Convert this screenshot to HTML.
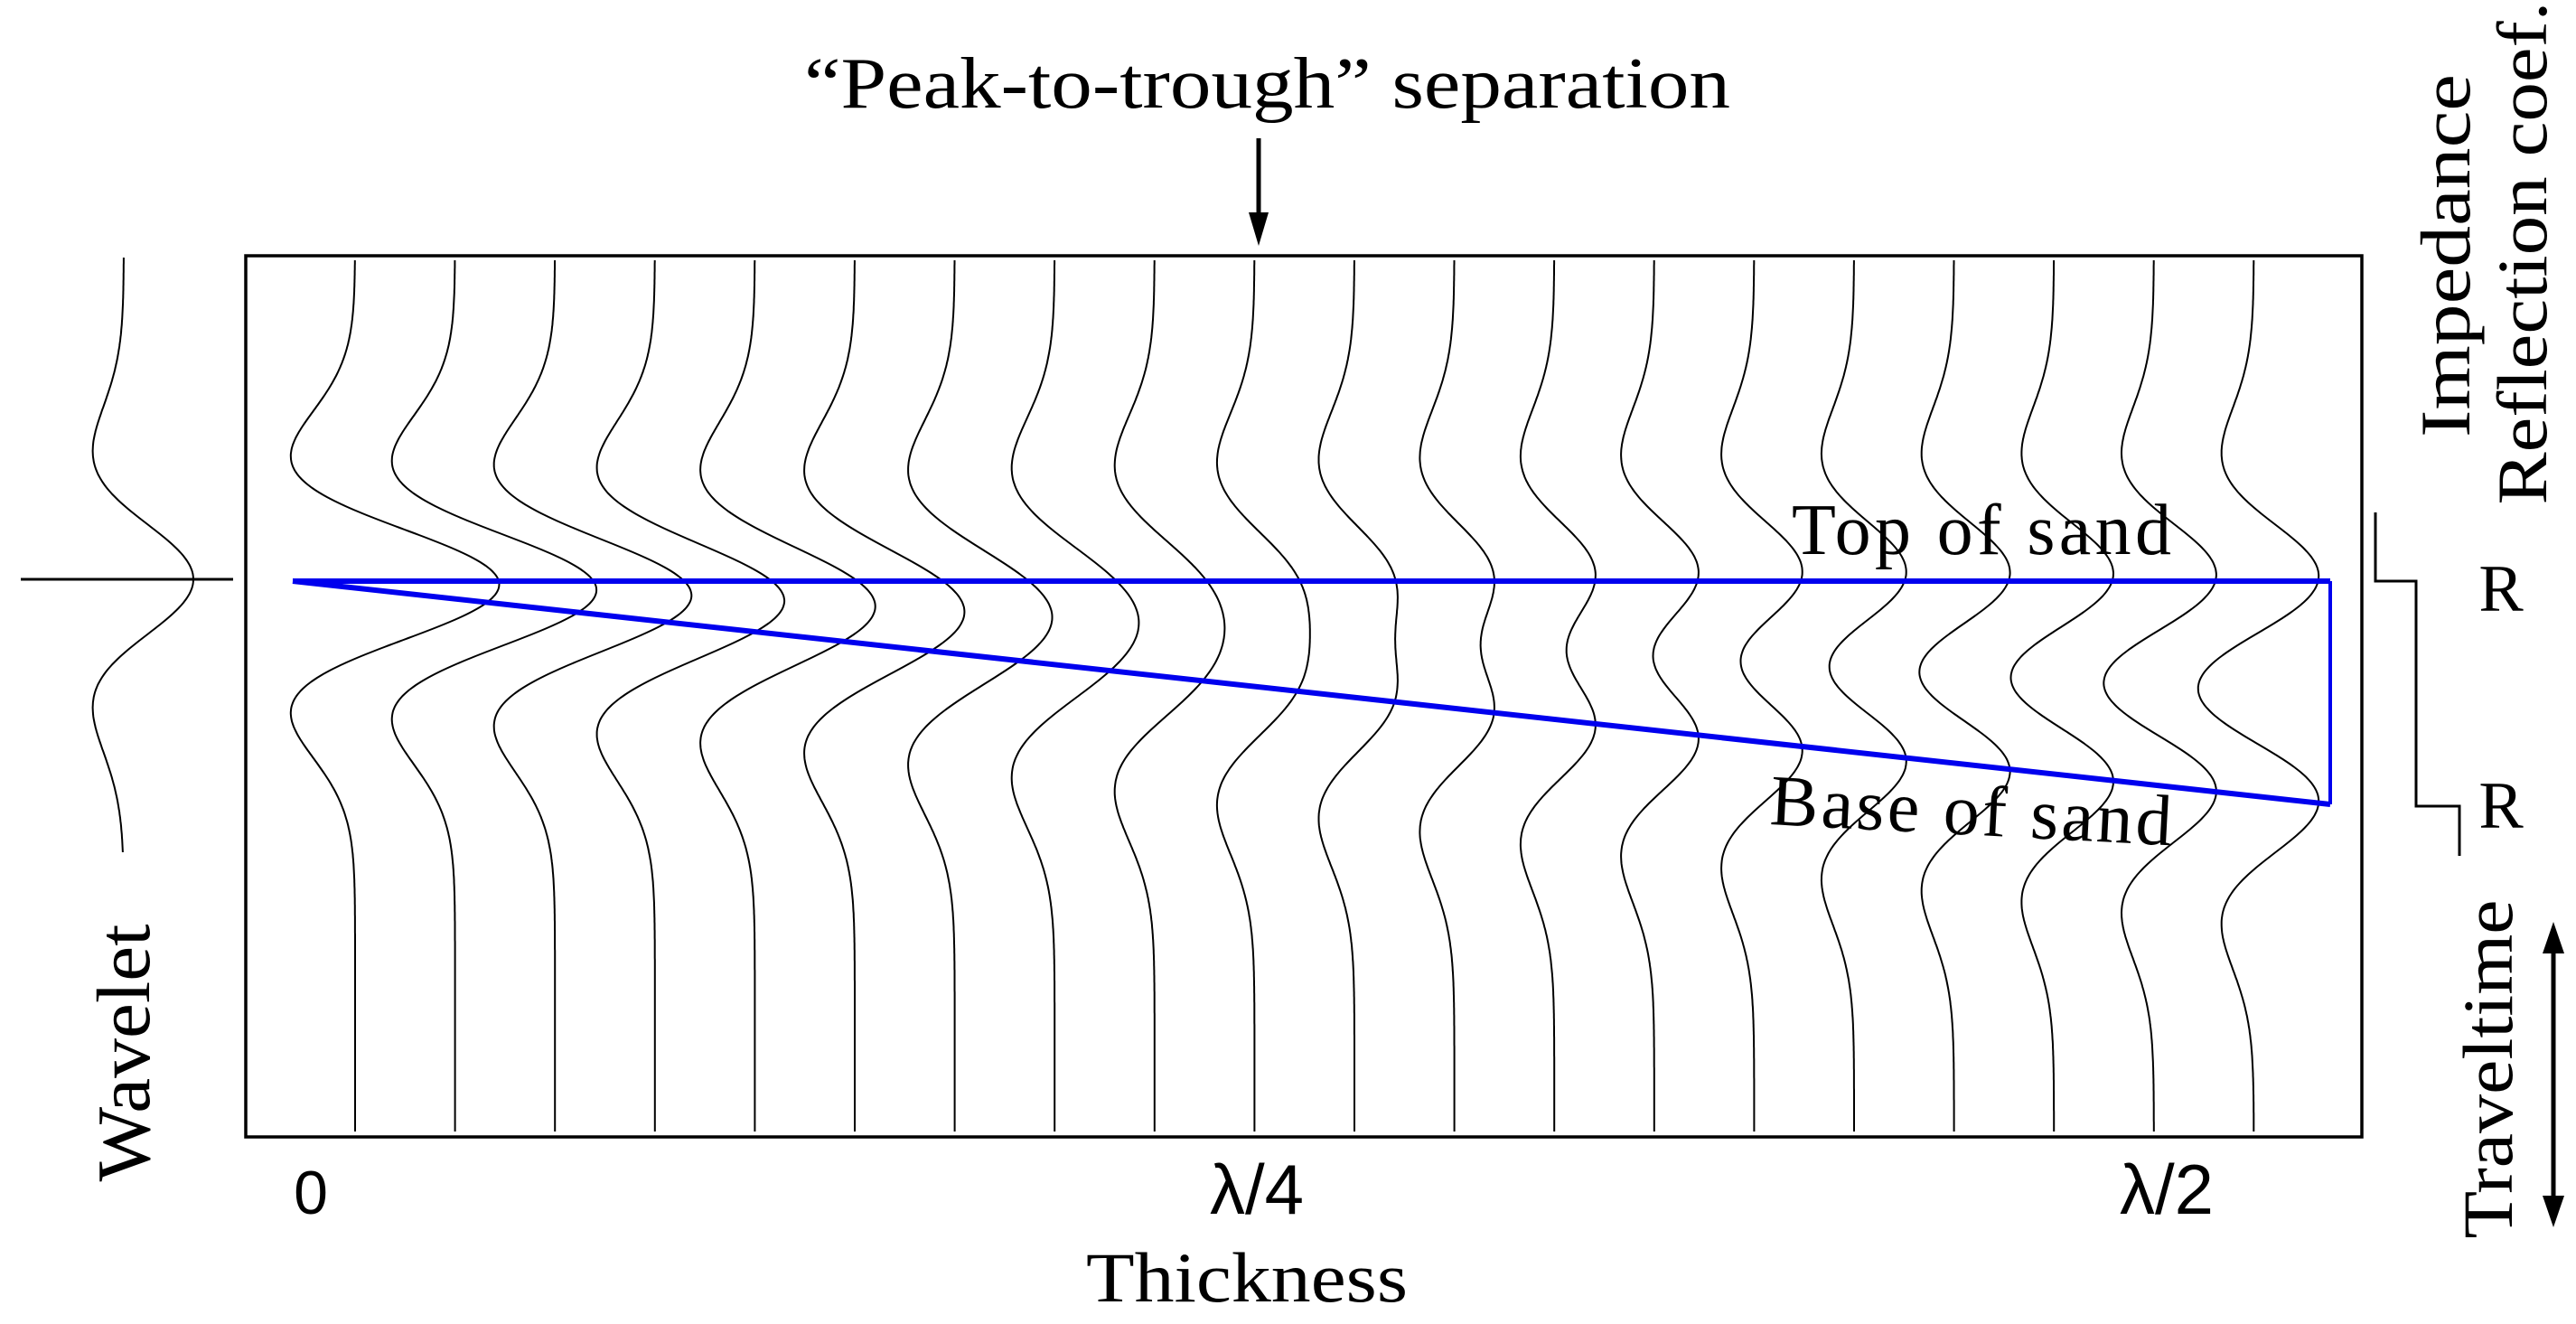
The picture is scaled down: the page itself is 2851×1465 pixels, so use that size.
<!DOCTYPE html>
<html><head><meta charset="utf-8"><style>
html,body{margin:0;padding:0;background:#fff;}
svg{display:block;}
text{font-family:"Liberation Serif",serif;fill:#000;}
.s{font-family:"Liberation Sans",sans-serif;}
</style></head><body>
<svg id="sv" width="2851" height="1465" viewBox="0 0 2851 1465" xmlns="http://www.w3.org/2000/svg">
<rect x="272" y="283" width="2342" height="975" fill="none" stroke="#000" stroke-width="3.5"/>
<g id="traces" fill="none" stroke="#000" stroke-width="2"></g>
<path id="wav" fill="none" stroke="#000" stroke-width="2"/>
<line x1="23" y1="641" x2="258" y2="641" stroke="#000" stroke-width="3"/>
<g stroke="#0000ee" stroke-width="6" fill="none">
<line x1="324" y1="643" x2="2579" y2="643"/>
<line x1="324" y1="643" x2="2579" y2="890"/>
<line x1="2579" y1="643" x2="2579" y2="890" stroke-width="4"/>
</g>
<text x="890" y="119" font-size="80" textLength="1025" lengthAdjust="spacingAndGlyphs">“Peak-to-trough” separation</text>
<line x1="1393" y1="153" x2="1393" y2="240" stroke="#000" stroke-width="5"/>
<polygon points="1382,235 1404,235 1393,272" fill="#000"/>
<text x="1983" y="613" font-size="80" textLength="420">Top of sand</text>
<text x="1958" y="912" font-size="80" textLength="445" transform="rotate(3 1958 912)">Base of sand</text>
<text class="s" x="344" y="1343" font-size="68" text-anchor="middle">0</text>
<text class="s" x="1391" y="1343" font-size="78" text-anchor="middle">λ/4</text>
<text class="s" x="2398" y="1343" font-size="78" text-anchor="middle">λ/2</text>
<text x="1202" y="1440" font-size="78" textLength="356" lengthAdjust="spacingAndGlyphs">Thickness</text>
<text x="0" y="0" font-size="84" text-anchor="middle" textLength="285" lengthAdjust="spacingAndGlyphs" transform="translate(165 1165) rotate(-90)">Wavelet</text>
<text x="0" y="0" font-size="78" text-anchor="middle" textLength="402" lengthAdjust="spacingAndGlyphs" transform="translate(2733 283) rotate(-90)">Impedance</text>
<text x="0" y="0" font-size="78" text-anchor="middle" textLength="557" lengthAdjust="spacingAndGlyphs" transform="translate(2818 280) rotate(-90)">Reflection coef.</text>
<text x="0" y="0" font-size="78" text-anchor="middle" textLength="375" lengthAdjust="spacingAndGlyphs" transform="translate(2780 1183) rotate(-90)">Traveltime</text>
<polyline points="2629,567 2629,643 2674,643 2674,892 2722,892 2722,947" fill="none" stroke="#000" stroke-width="3"/>
<text x="2768" y="676" font-size="74" text-anchor="middle">R</text>
<text x="2768" y="916" font-size="74" text-anchor="middle">R</text>
<line x1="2826" y1="1050" x2="2826" y2="1328" stroke="#000" stroke-width="5"/>
<polygon points="2814,1055 2838,1055 2826,1020" fill="#000"/>
<polygon points="2814,1323 2838,1323 2826,1358" fill="#000"/>
</svg>
<script>
(function(){
var pf=0.008625;
function w(t){var a=pf*pf*t*t;return (1-2*a)*Math.exp(-a);}
var g=document.getElementById('traces');
var ns='http://www.w3.org/2000/svg';
for(var i=0;i<20;i++){
  var x0=393+i*110.6;
  var t1=643, t2=643+(x0-324)/(2579-324)*247;
  var d='';
  for(var y=288;y<=1253;y+=2){
    var v=80*(w(y-t1)+w(y-t2));
    d+=(y==288?'M':'L')+(x0+v).toFixed(1)+' '+y+' ';
  }
  var p=document.createElementNS(ns,'path');p.setAttribute('d',d);g.appendChild(p);
}
var d2='';
for(var y=285;y<=943;y+=2){d2+=(y==285?'M':'L')+(137+77*w(y-641)).toFixed(1)+' '+y+' ';}
document.getElementById('wav').setAttribute('d',d2);
})();
</script>
</body></html>
